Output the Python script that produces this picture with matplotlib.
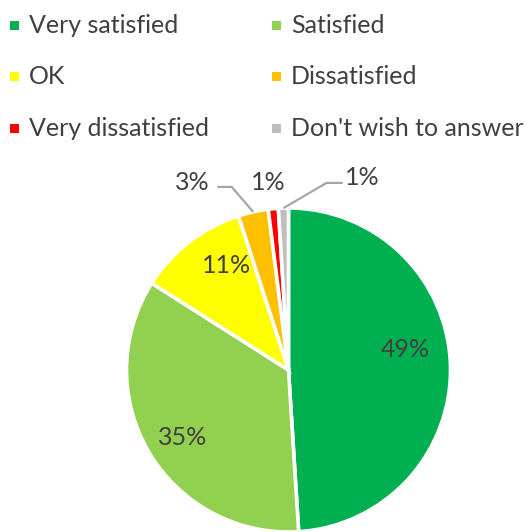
import matplotlib
matplotlib.use("Agg")
import matplotlib.pyplot as plt
from matplotlib.patches import Rectangle
import numpy as np

# Survey responses (share of respondents, %)
categories = ["Very satisfied", "Satisfied", "OK", "Dissatisfied",
              "Very dissatisfied", "Don't wish to answer"]
shares = [49, 35, 11, 3, 1, 1]
colors = ["#00B050", "#92D050", "#FFFF00", "#FFC000", "#FF0000", "#BFBFBF"]

TEXT = "#404040"
LEADER = "#A6A6A6"
FONT = ["Lato", "DejaVu Sans"]
plt.rcParams["font.family"] = FONT

W, H = 531, 532
fig = plt.figure(figsize=(W / 100, H / 100), dpi=100)

# Pie axes: centre (288.5, 370) px from top-left, radius 162 px
cx, cy, r = 288.5, 370.0, 162.0
ax = fig.add_axes([(cx - r) / W, (H - cy - r) / H, 2 * r / W, 2 * r / H])

wedges, _ = ax.pie(shares, colors=colors, startangle=90, counterclock=False,
                   radius=1.0, wedgeprops=dict(edgecolor="white", linewidth=2.6))
ax.set_xlim(-1, 1)
ax.set_ylim(-1, 1)
ax.set_aspect("equal")
ax.axis("off")

def mid_angle(w):
    return np.deg2rad(0.5 * (w.theta1 + w.theta2))

# Inside labels for the large slices
inside = {0: (0.73, 8.0), 1: (0.775, 2.0), 2: (0.75, -7.0)}
for i, (dist, dang) in inside.items():
    a = mid_angle(wedges[i]) + np.deg2rad(dang)
    ax.text(dist * np.cos(a), dist * np.sin(a), f"{shares[i]}%",
            ha="center", va="center", fontsize=18, color=TEXT)

def edge_point(i):
    a = mid_angle(wedges[i])
    return np.cos(a), np.sin(a)

# Dissatisfied: label with elbow leader
ex, ey = edge_point(3)
ax.plot([-0.44, -0.35, ex], [1.13, 1.13, ey], color=LEADER, lw=1.6,
        clip_on=False, solid_capstyle="butt")
ax.text(-0.595, 1.155, f"{shares[3]}%", ha="center", va="center",
        fontsize=18, color=TEXT, clip_on=False)

# Very dissatisfied: label without leader
ax.text(-0.127, 1.155, f"{shares[4]}%", ha="center", va="center",
        fontsize=18, color=TEXT, clip_on=False)

# Don't wish to answer: label with elbow leader
ex, ey = edge_point(5)
ax.plot([0.335, 0.235, ex], [1.155, 1.155, ey], color=LEADER, lw=1.6,
        clip_on=False, solid_capstyle="butt")
ax.text(0.455, 1.19, f"{shares[5]}%", ha="center", va="center",
        fontsize=18, color=TEXT, clip_on=False)

# Legend: two columns, three rows
col_x = [10, 272]
row_y = [25.5, 76.5, 128]
for k, (name, col) in enumerate(zip(categories, colors)):
    x0 = col_x[k % 2]
    y0 = row_y[k // 2]
    fig.add_artist(Rectangle((x0 / W, (H - y0 - 4.5) / H), 9 / W, 9 / H,
                             transform=fig.transFigure, facecolor=col,
                             edgecolor="none"))
    fig.text((x0 + 19) / W, (H - y0) / H, name, ha="left", va="center",
             fontsize=18, color=TEXT)

fig.savefig("out.png", dpi=100)
